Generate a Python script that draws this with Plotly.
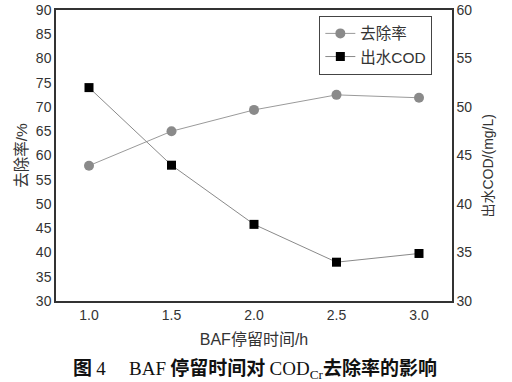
import plotly.graph_objects as go

hrt = [1.0, 1.5, 2.0, 2.5, 3.0]
removal = [57.9, 65.0, 69.4, 72.5, 71.9]
cod_out = [52.0, 44.0, 37.9, 34.0, 34.9]
x_ticks = ["1.0", "1.5", "2.0", "2.5", "3.0"]

font_sans = "Liberation Sans, Arial, Noto Sans CJK SC, sans-serif"

fig = go.Figure()
fig.add_trace(go.Scatter(
    x=hrt, y=removal, name="去除率", mode="lines+markers",
    line=dict(color="#9a9a9a", width=1),
    marker=dict(symbol="circle", size=10, color="#8a8a8a"),
    yaxis="y"))
fig.add_trace(go.Scatter(
    x=hrt, y=cod_out, name="出水COD", mode="lines+markers",
    line=dict(color="#8a8a8a", width=1),
    marker=dict(symbol="square", size=9, color="#000000"),
    yaxis="y2"))

axis_line = dict(showline=True, linecolor="#333333", linewidth=1.5,
                 showgrid=False, zeroline=False, ticks="", automargin=False)

fig.update_layout(
    width=512, height=382,
    margin=dict(l=56, r=60, t=10, b=81),
    paper_bgcolor="white", plot_bgcolor="white",
    font=dict(family=font_sans, size=14, color="#333333"),
    showlegend=True,
    legend=dict(x=0.665, y=0.98, xanchor="left", yanchor="top",
                bgcolor="white", bordercolor="#444444", borderwidth=1,
                font=dict(size=15.5, color="#333333"),
                tracegroupgap=0, itemwidth=30),
    xaxis=dict(range=[0.8, 3.2], tickvals=hrt, ticktext=x_ticks,
               title=dict(text="BAF停留时间/h", font=dict(size=16), standoff=12),
               mirror=True, **axis_line),
    yaxis=dict(range=[30, 90], dtick=5, tickformat="d",
               title=dict(text="去除率/%", font=dict(size=15.5), standoff=4),
               **axis_line),
    yaxis2=dict(range=[30, 60], dtick=5, overlaying="y", side="right",
                **axis_line),
)
fig.add_annotation(
    xref="paper", yref="paper", x=1, xshift=35, y=0.5, yshift=-11,
    xanchor="center", yanchor="middle", textangle=-90, showarrow=False,
    text="出水COD/(mg/L)", font=dict(size=14, color="#333333"))
serif = "font-family:Liberation Serif;font-weight:normal"
fig.add_annotation(
    xref="paper", yref="paper", x=0.5, y=0, yshift=-66, xshift=1,
    xanchor="center", yanchor="middle", showarrow=False,
    text=(f"<b>图</b> <span style='{serif}'>4</span>　 "
          f"<span style='{serif}'>BAF</span> <b>停留时间对</b> "
          f"<span style='{serif}'>COD<sub>Cr</sub></span><b>去除率的影响</b>"),
    font=dict(size=19, color="#111111", family="Noto Sans CJK SC, Liberation Serif"))

fig.write_html("out.html", config={"displayModeBar": False},
               post_script="document.body.style.margin='0';")
